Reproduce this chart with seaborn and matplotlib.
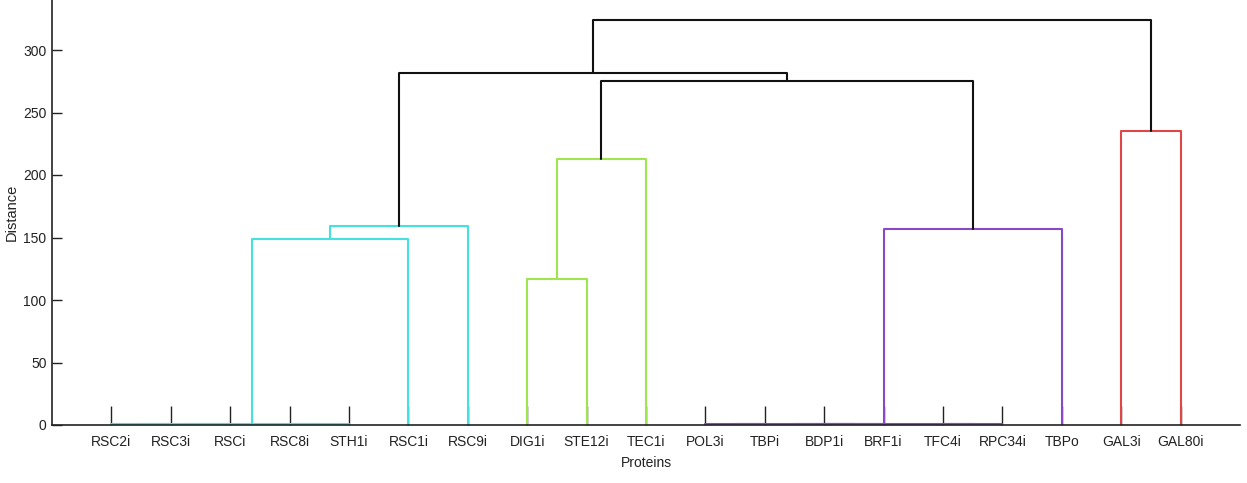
import matplotlib
matplotlib.use("Agg")
import matplotlib.pyplot as plt
import numpy as np
import pandas as pd
import seaborn as sns

# ---- data ----
leaf_labels = ["RSC2i", "RSC3i", "RSCi", "RSC8i", "STH1i", "RSC1i", "RSC9i",
               "DIG1i", "STE12i", "TEC1i", "POL3i", "TBPi", "BDP1i", "BRF1i",
               "TFC4i", "RPC34i", "TBPo", "GAL3i", "GAL80i"]
# linkage (leaf indices 0..18, new nodes numbered from 19 on)
left_child = [0, 19, 3, 20, 22, 23, 7, 25, 10, 12, 27, 14, 29, 31, 17, 26, 24, 35]
right_child = [1, 2, 4, 21, 5, 6, 8, 9, 11, 13, 28, 15, 30, 16, 18, 32, 34, 33]
merge_height = [0.8, 1.0, 0.9, 1.2, 148.5, 159.0, 116.5, 213.0, 0.8, 0.9, 1.0,
                0.9, 1.2, 156.5, 235.0, 275.0, 282.0, 324.0]
link_group = ["c", "c", "c", "c", "c", "c", "g", "g", "p", "p", "p",
              "p", "p", "p", "r", "k", "k", "k"]
y_ticks = [0, 50, 100, 150, 200, 250, 300]

palette = {"c": "#45e0e0", "g": "#9ee550", "p": "#8848c8", "r": "#e04646", "k": "#111111"}

# ---- build dendrogram segments ----
n = len(leaf_labels)
xpos = {i: i + 1.0 for i in range(n)}
hpos = {i: 0.0 for i in range(n)}
rows = []
for k, (a, b, h, g) in enumerate(zip(left_child, right_child, merge_height, link_group)):
    node = n + k
    xa, xb = xpos[a], xpos[b]
    pts = [(xa, hpos[a]), (xa, h), (xb, h), (xb, hpos[b])]
    for j, (px, py) in enumerate(pts):
        rows.append({"link": k, "order": j, "x": px, "y": py, "grp": g})
    xpos[node] = (xa + xb) / 2.0
    hpos[node] = h
df = pd.DataFrame(rows)

# ---- plot ----
sns.set_style("ticks")
plt.rcParams["font.family"] = ["Liberation Sans", "DejaVu Sans"]

W, H = 1247, 483
fig = plt.figure(figsize=(W / 100, H / 100), dpi=100)
ax = fig.add_axes([52 / W, 58 / H, (1240 - 52) / W, 425 / H])
ax.set_axisbelow(True)

sns.lineplot(data=df, x="x", y="y", hue="grp", units="link", estimator=None,
             sort=False, palette=palette, legend=False, linewidth=1.5, ax=ax)

ax.set_xlim(0, n + 1)
ax.set_ylim(0, 340)
ax.set_xticks(range(1, n + 1))
ax.set_xticklabels(leaf_labels)
ax.set_yticks(y_ticks)
ax.set_yticklabels([str(v) for v in y_ticks])
ax.tick_params(axis="x", direction="in", length=13.5, width=1.0, color="#222222",
               labelsize=10, pad=7, labelcolor="#222222")
ax.tick_params(axis="y", direction="in", length=7.5, width=1.0, color="#222222",
               labelsize=10, pad=4, labelcolor="#222222")
ax.set_xlabel("Proteins", fontsize=10, labelpad=5, color="#222222")
ax.set_ylabel("Distance", fontsize=10.5, labelpad=3, color="#222222")
sns.despine(ax=ax, top=True, right=True)
for s in ("left", "bottom"):
    ax.spines[s].set_linewidth(1.2)
    ax.spines[s].set_color("#222222")

fig.savefig("out.png", dpi=100, facecolor="white")
